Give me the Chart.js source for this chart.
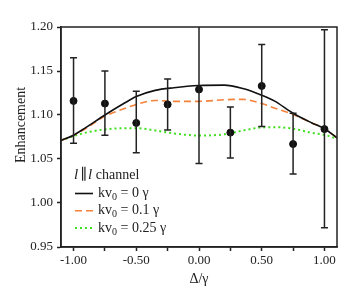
<!DOCTYPE html>
<html>
<head>
<meta charset="utf-8">
<script src="https://cdn.jsdelivr.net/npm/chart.js@4.4.1/dist/chart.umd.min.js"></script>
<style>
  html, body { margin: 0; padding: 0; background: #fff; }
</style>
</head>
<body>
<canvas id="chart" width="356" height="300"></canvas>
<script>
// measured points with error bars
const detuning = [-1.0, -0.75, -0.5, -0.25, 0.0, 0.25, 0.5, 0.75, 1.0];
const measured = [1.116, 1.113, 1.091, 1.112, 1.129, 1.080, 1.133, 1.067, 1.084];
const errLow = [1.068, 1.077, 1.057, 1.083, 1.045, 1.051, 1.087, 1.033, 0.972];
const errHigh = [1.165, 1.150, 1.127, 1.141, 1.215, 1.109, 1.180, 1.102, 1.197];

// theory curves
const curveX = [-1.1, -1.0, -0.9, -0.75, -0.6, -0.5, -0.35, -0.2, 0.0, 0.2, 0.35, 0.5, 0.6, 0.75, 0.9, 1.0, 1.1];
const kv0Zero = [1.071, 1.077, 1.086, 1.100, 1.113, 1.121, 1.128, 1.131, 1.1335, 1.134, 1.130, 1.1224, 1.116, 1.102, 1.091, 1.0844, 1.074];
const kv0Tenth = [1.071, 1.077, 1.085, 1.0987, 1.107, 1.112, 1.1165, 1.1155, 1.1155, 1.1173, 1.1178, 1.113, 1.108, 1.1005, 1.091, 1.0844, 1.074];
const kv0Quarter = [1.071, 1.076, 1.080, 1.0836, 1.085, 1.085, 1.0825, 1.079, 1.0767, 1.078, 1.0824, 1.0858, 1.0862, 1.0844, 1.0798, 1.0775, 1.073];

const kvLabels = ['0', '0.1', '0.25'];
const xTicks = [-1.0, -0.75, -0.5, -0.25, 0.0, 0.25, 0.5, 0.75, 1.0];
const yTicks = [0.95, 1.0, 1.05, 1.1, 1.15, 1.2];

const serif = '"Liberation Serif", "DejaVu Serif", serif';
const ink = '#222';

const toPoints = (xs, ys) => xs.map((x, i) => ({ x: x, y: ys[i] }));

// error bars, clipped to the plot area
const errorBars = {
  id: 'errorBars',
  afterDatasetsDraw(chart) {
    const { ctx, chartArea, scales } = chart;
    ctx.save();
    ctx.beginPath();
    ctx.rect(chartArea.left, chartArea.top, chartArea.right - chartArea.left, chartArea.bottom - chartArea.top);
    ctx.clip();
    ctx.strokeStyle = ink;
    ctx.lineWidth = 1.5;
    detuning.forEach((d, i) => {
      const x = scales.x.getPixelForValue(d);
      const y1 = scales.y.getPixelForValue(errLow[i]);
      const y2 = scales.y.getPixelForValue(errHigh[i]);
      ctx.beginPath();
      ctx.moveTo(x, y1); ctx.lineTo(x, y2);
      ctx.moveTo(x - 3.5, y1); ctx.lineTo(x + 3.5, y1);
      ctx.moveTo(x - 3.5, y2); ctx.lineTo(x + 3.5, y2);
      ctx.stroke();
    });
    ctx.restore();
  }
};

// box around the plot, y title and the legend inside the plot
const frameAndLegend = {
  id: 'frameAndLegend',
  afterDraw(chart) {
    const { ctx, chartArea } = chart;
    ctx.save();
    ctx.strokeStyle = ink;
    ctx.lineWidth = 1.5;
    ctx.strokeRect(chartArea.left, chartArea.top, chartArea.right - chartArea.left, chartArea.bottom - chartArea.top);

    // y axis title (sits a bit above the centre in the original)
    ctx.save();
    ctx.translate(21, 125);
    ctx.rotate(-Math.PI / 2);
    ctx.fillStyle = ink;
    ctx.textAlign = 'center';
    ctx.textBaseline = 'middle';
    ctx.font = '14px ' + serif;
    ctx.fillText('Enhancement', 0, 0);
    ctx.restore();

    // legend title
    let x = 74;
    let y = 175;
    ctx.fillStyle = ink;
    ctx.textBaseline = 'middle';
    ctx.font = 'italic 15px ' + serif;
    ctx.fillText('l', x, y);
    x += ctx.measureText('l').width + 2;
    ctx.font = '15px ' + serif;
    ctx.fillText('\u2225', x, y);
    x += ctx.measureText('\u2225').width + 1;
    ctx.font = 'italic 15px ' + serif;
    ctx.fillText('l', x, y);
    x += ctx.measureText('l').width;
    ctx.font = '14px ' + serif;
    ctx.fillText(' channel', x, y);

    // entries
    const lines = chart.data.datasets.filter(ds => ds.type === 'line');
    lines.forEach((ds, i) => {
      const ey = 193.5 + i * 17.3;
      ctx.strokeStyle = ds.borderColor;
      ctx.lineWidth = ds.borderWidth;
      ctx.setLineDash(ds.borderDash || []);
      ctx.beginPath();
      ctx.moveTo(75, ey); ctx.lineTo(93, ey);
      ctx.stroke();
      ctx.setLineDash([]);
      ctx.fillStyle = ink;
      let tx = 98;
      ctx.font = '14px ' + serif;
      ctx.fillText('kv', tx, ey);
      tx += ctx.measureText('kv').width;
      ctx.font = '10px ' + serif;
      ctx.fillText('0', tx, ey + 4);
      tx += ctx.measureText('0').width;
      ctx.font = '14px ' + serif;
      ctx.fillText(' = ' + kvLabels[i] + ' \u03b3', tx, ey);
    });
    ctx.restore();
  }
};

new Chart(document.getElementById('chart'), {
  data: {
    datasets: [
      {
        type: 'scatter',
        label: 'data',
        data: toPoints(detuning, measured),
        backgroundColor: '#111',
        borderColor: '#111',
        pointRadius: 3.5,
        order: 0
      },
      {
        type: 'line',
        label: 'kv0 = ' + kvLabels[0] + ' γ',
        data: toPoints(curveX, kv0Zero),
        borderColor: '#111',
        borderWidth: 1.6,
        pointRadius: 0,
        cubicInterpolationMode: 'monotone',
        order: 1
      },
      {
        type: 'line',
        label: 'kv0 = ' + kvLabels[1] + ' γ',
        data: toPoints(curveX, kv0Tenth),
        borderColor: '#f5823a',
        borderWidth: 1.6,
        borderDash: [7, 4],
        pointRadius: 0,
        cubicInterpolationMode: 'monotone',
        order: 2
      },
      {
        type: 'line',
        label: 'kv0 = ' + kvLabels[2] + ' γ',
        data: toPoints(curveX, kv0Quarter),
        borderColor: '#3ee01e',
        borderWidth: 2,
        borderDash: [2, 3],
        pointRadius: 0,
        cubicInterpolationMode: 'monotone',
        order: 3
      }
    ]
  },
  options: {
    responsive: false,
    animation: false,
    devicePixelRatio: 1,
    layout: { padding: { left: 0, top: 27, right: 19, bottom: 0 } },
    plugins: {
      legend: { display: false },
      tooltip: { enabled: false }
    },
    scales: {
      x: {
        type: 'linear',
        min: -1.1,
        max: 1.1,
        afterBuildTicks: (scale) => { scale.ticks = xTicks.map(v => ({ value: v })); },
        afterFit: (scale) => { scale.height = 53; },
        grid: { drawOnChartArea: false, drawTicks: true, tickLength: 4, color: ink, tickWidth: 1.5 },
        border: { display: true, color: ink, width: 1.5 },
        ticks: {
          color: ink,
          padding: 2,
          maxRotation: 0,
          autoSkip: false,
          font: { family: serif, size: 13 },
          callback: (v) => (Math.abs(v * 2 - Math.round(v * 2)) < 1e-6 ? v.toFixed(2) : '')
        },
        title: {
          display: true,
          text: 'Δ/γ',
          color: ink,
          font: { family: serif, size: 14 },
          padding: { top: 0, bottom: 12 }
        }
      },
      y: {
        min: 0.95,
        max: 1.2,
        afterBuildTicks: (scale) => { scale.ticks = yTicks.map(v => ({ value: v })); },
        afterFit: (scale) => { scale.width = 61; },
        grid: { drawOnChartArea: false, drawTicks: true, tickLength: 4, color: ink, tickWidth: 1.5 },
        border: { display: true, color: ink, width: 1.5 },
        ticks: {
          color: ink,
          padding: 4,
          autoSkip: false,
          font: { family: serif, size: 13 },
          callback: (v) => v.toFixed(2)
        },
        title: { display: false }
      }
    }
  },
  plugins: [errorBars, frameAndLegend]
});
</script>
</body>
</html>
